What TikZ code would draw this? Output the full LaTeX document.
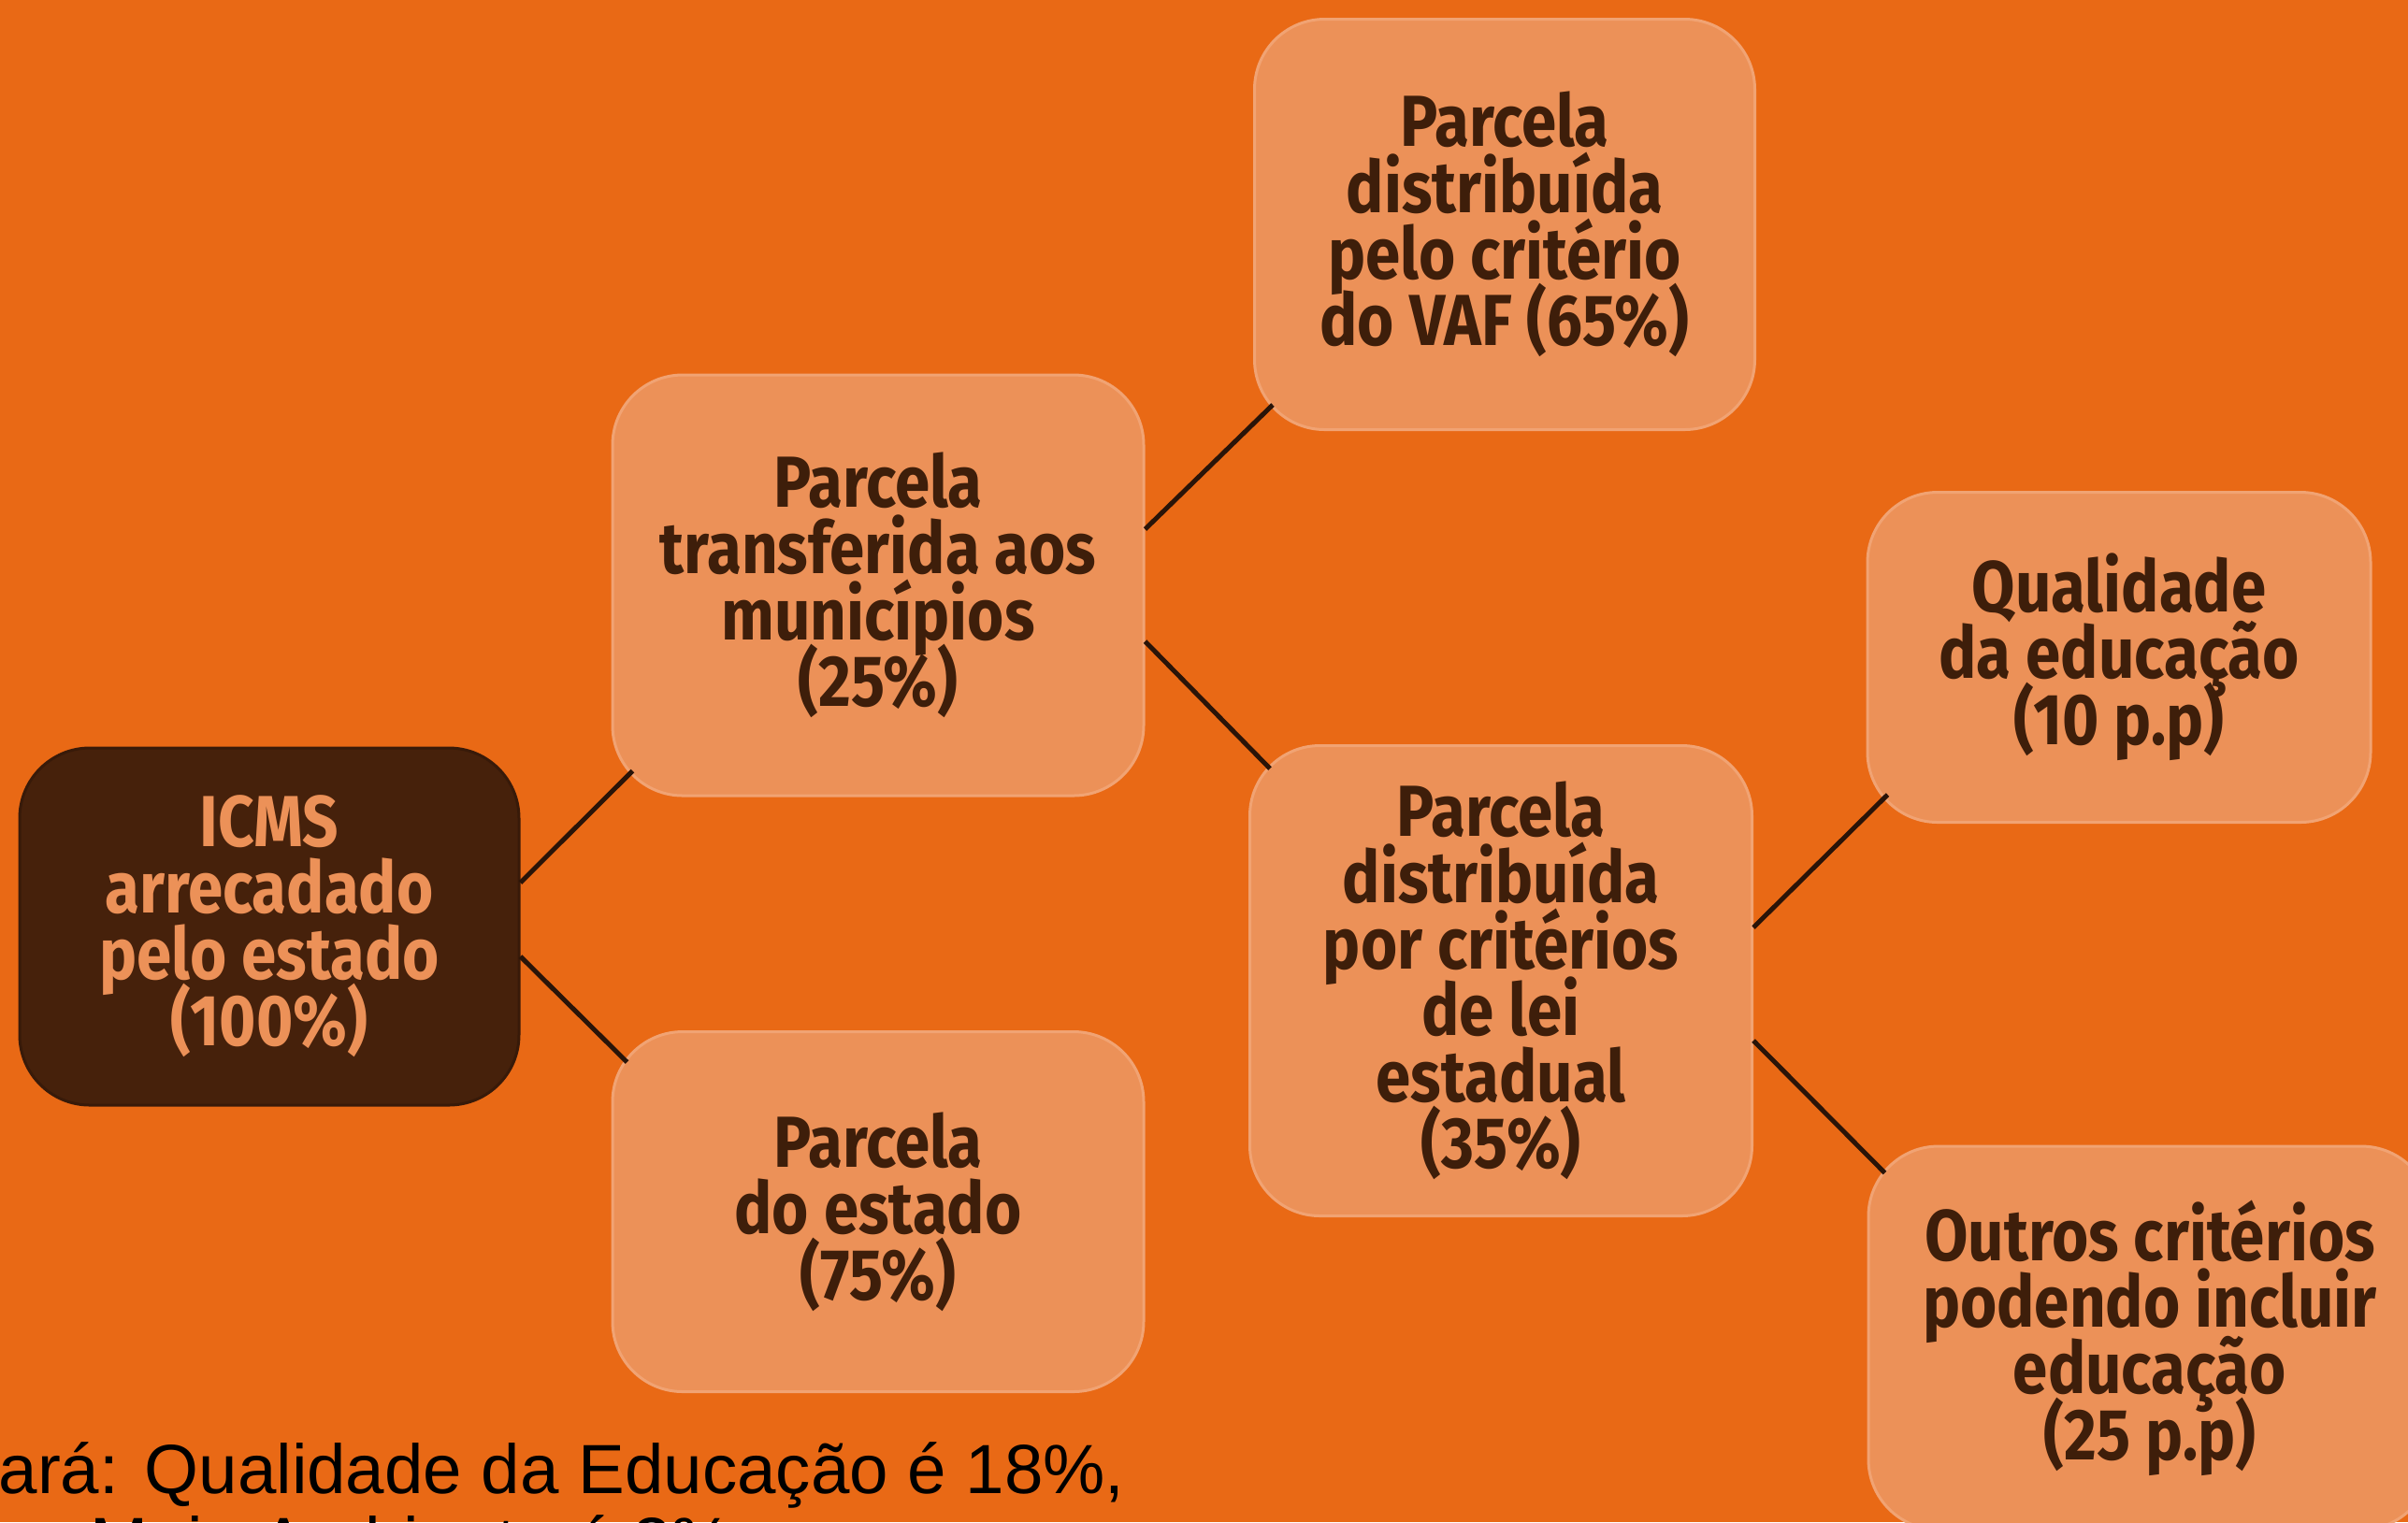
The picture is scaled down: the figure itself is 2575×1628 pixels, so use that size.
\documentclass[tikz,border=0pt]{standalone}
\usepackage{fontspec}
\setmainfont{Liberation Sans}
\newfontfamily\boxfont[FakeStretch=0.87]{Fira Sans}
\newcommand\boxtext{\boxfont\bfseries\fontsize{22}{20.2}\selectfont\lineskiplimit=-100pt\relax}
\usepackage{xcolor}
\usetikzlibrary{calc}
\definecolor{bgorange}{RGB}{233,105,21}
\definecolor{boxorange}{RGB}{236,145,88}
\definecolor{boxedge}{RGB}{241,163,115}
\definecolor{darkbrown}{RGB}{70,33,11}
\definecolor{textbrown}{RGB}{62,30,10}
\definecolor{lineclr}{RGB}{42,20,8}

\begin{document}
\begin{tikzpicture}[x=0.1mm,y=-0.1mm,
  box/.style={draw=boxedge,line width=0.3mm,fill=boxorange,rounded corners=7.5mm,
    align=center,text=textbrown,inner sep=0pt,font=\boxtext},
  rootbox/.style={box,draw=darkbrown!80!black,fill=darkbrown,text=boxorange},
  link/.style={draw=lineclr,line width=0.5mm},
  note/.style={anchor=base west,inner sep=0pt,text=black,
    font=\fontsize{21.2}{24}\selectfont}]
\clip (0,0) rectangle (2575,1628);
\fill[bgorange] (0,0) rectangle (2575,1628);

\node[rootbox,minimum width=53.4mm,minimum height=38.2mm] (icms) at (288,991)
  {ICMS\\arrecadado\\pelo estado\\(100\%)};
\node[box,minimum width=56.8mm,minimum height=45mm] (trans) at (939,626)
  {Parcela\\transferida aos\\municípios\\(25\%)};
\node[box,minimum width=56.8mm,minimum height=38.5mm] (estado) at (939,1296)
  {Parcela\\do estado\\(75\%)};
\node[box,minimum width=53.5mm,minimum height=43.9mm] (vaf) at (1609,240)
  {Parcela\\distribuída\\pelo critério\\do VAF (65\%)};
\node[box,minimum width=53.7mm,minimum height=50.3mm] (lei) at (1605,1049)
  {Parcela\\distribuída\\por critérios\\de lei\\estadual\\(35\%)};
\node[box,minimum width=53.8mm,minimum height=35.3mm] (qual) at (2266,703)
  {Qualidade\\da educação\\(10 p.p)};
\node[box,minimum width=60.2mm,minimum height=41mm] (outros) at (2299,1431)
  {Outros critérios\\podendo incluir\\educação\\(25 p.p)};

\draw[link] ($(icms.east)+(0,-47)$) -- ($(trans.south west)+(23,-28)$);
\draw[link] ($(icms.east)+(0,32)$) -- ($(estado.north west)+(17,34)$);
\draw[link] ($(trans.east)+(0,-60)$) -- ($(vaf.south west)+(21,-28)$);
\draw[link] ($(trans.east)+(0,60)$) -- ($(lei.north west)+(23,26)$);
\draw[link] ($(lei.east)+(0,-57)$) -- ($(qual.south west)+(23,-31)$);
\draw[link] ($(lei.east)+(0,64)$) -- ($(outros.north west)+(19,30)$);

\node[note] (note1) at (-2,1597) {ará: Qualidade da Educação é 18\%,};
\node[note] (note2) at (96,1675) {Meio Ambiente é 2\%};
\end{tikzpicture}
\end{document}
